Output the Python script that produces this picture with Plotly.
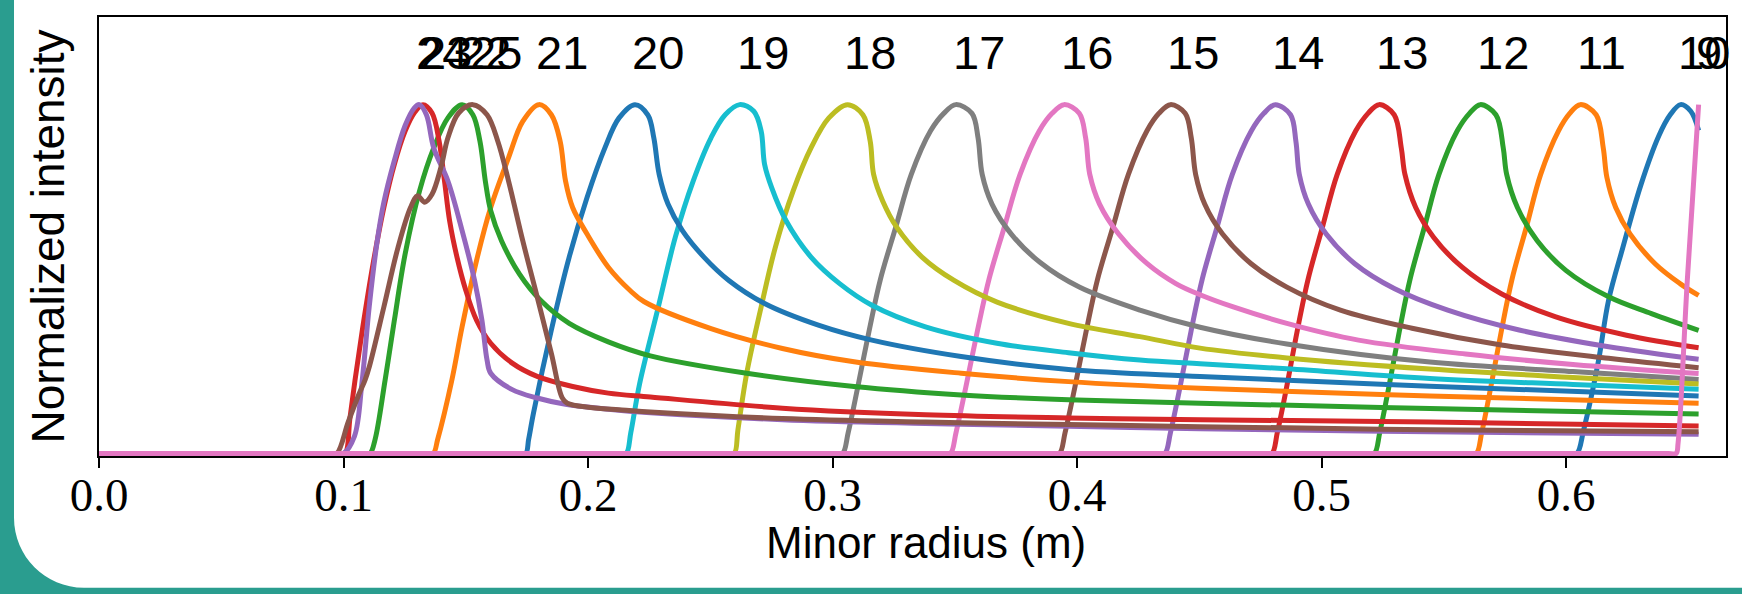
import plotly.graph_objects as go

# ---------------- data ----------------
CHANNELS = [10, 11, 12, 13, 14, 15, 16, 17, 18, 19, 20, 21, 22, 23, 24, 25, 9]

X10 = [0.0, 0.6014, 0.6044, 0.6072, 0.6131, 0.6174, 0.6232, 0.6306, 0.6379, 0.6425, 0.6468, 0.651, 0.6542]
Y10 = [0.0, 0.0, 0.0, 0.068, 0.26, 0.44, 0.59, 0.77, 0.91, 0.97, 1.0, 0.981, 0.926]

X11 = [0.0, 0.5603, 0.5633, 0.5655, 0.5692, 0.5735, 0.5779, 0.5838, 0.5896, 0.5969, 0.6015, 0.6058,
       0.6123, 0.6152, 0.6167, 0.6203, 0.6262, 0.6364, 0.6466, 0.6542]
Y11 = [0.0, 0.0, 0.0, 0.06, 0.19, 0.35, 0.5, 0.65, 0.8, 0.925, 0.975, 1.0,
       0.971, 0.876, 0.791, 0.705, 0.629, 0.544, 0.487, 0.453]

X12 = [0.0, 0.5186, 0.5216, 0.5238, 0.5275, 0.5318, 0.5362, 0.5421, 0.548, 0.5555, 0.5605, 0.5649,
       0.5713, 0.5743, 0.5757, 0.5801, 0.5882, 0.5999, 0.6174, 0.6349, 0.6542]
Y12 = [0.0, 0.0, 0.0, 0.06, 0.19, 0.35, 0.5, 0.65, 0.8, 0.925, 0.975, 1.0,
       0.971, 0.876, 0.8, 0.705, 0.61, 0.525, 0.449, 0.401, 0.353]

X13 = [0.0, 0.4767, 0.4797, 0.4819, 0.4857, 0.49, 0.4945, 0.5004, 0.5064, 0.514, 0.519, 0.5235,
       0.5297, 0.5326, 0.5341, 0.5385, 0.5458, 0.5575, 0.5735, 0.5955, 0.6247, 0.6542]
Y13 = [0.0, 0.0, 0.0, 0.06, 0.19, 0.35, 0.5, 0.65, 0.8, 0.925, 0.975, 1.0,
       0.971, 0.876, 0.8, 0.705, 0.62, 0.534, 0.458, 0.392, 0.339, 0.303]

X14 = [0.0, 0.4329, 0.4359, 0.4382, 0.4421, 0.4466, 0.4512, 0.4573, 0.4635, 0.4713, 0.4764, 0.4811,
       0.4873, 0.4895, 0.4909, 0.4946, 0.5019, 0.5136, 0.5297, 0.5516, 0.5808, 0.6174, 0.6542]
Y14 = [0.0, 0.0, 0.0, 0.06, 0.19, 0.35, 0.5, 0.65, 0.8, 0.925, 0.975, 1.0,
       0.971, 0.895, 0.8, 0.715, 0.629, 0.544, 0.473, 0.411, 0.354, 0.306, 0.27]

X15 = [0.0, 0.3898, 0.3928, 0.3951, 0.3991, 0.4037, 0.4084, 0.4147, 0.421, 0.4286, 0.4335, 0.4382,
       0.4442, 0.4467, 0.4485, 0.4522, 0.4595, 0.4712, 0.4858, 0.5077, 0.537, 0.5735, 0.6174, 0.6542]
Y15 = [0.0, 0.0, 0.0, 0.06, 0.19, 0.35, 0.5, 0.65, 0.8, 0.925, 0.975, 1.0,
       0.975, 0.905, 0.8, 0.715, 0.629, 0.544, 0.477, 0.411, 0.359, 0.311, 0.273, 0.246]

X16 = [0.0, 0.3452, 0.3482, 0.3505, 0.3545, 0.3592, 0.364, 0.3703, 0.3767, 0.3846, 0.3898, 0.3947,
       0.4009, 0.4035, 0.4052, 0.4092, 0.417, 0.4287, 0.4404, 0.4503, 0.4639, 0.4858, 0.5151,
       0.5589, 0.6028, 0.6542]
Y16 = [0.0, 0.0, 0.0, 0.06, 0.19, 0.35, 0.5, 0.65, 0.8, 0.925, 0.975, 1.0,
       0.975, 0.905, 0.8, 0.715, 0.629, 0.544, 0.487, 0.455, 0.42, 0.373, 0.325,
       0.285, 0.255, 0.229]

X17 = [0.0, 0.3011, 0.3041, 0.3064, 0.3103, 0.3149, 0.3196, 0.3259, 0.3322, 0.3401, 0.3455, 0.3504,
       0.357, 0.3595, 0.3612, 0.3652, 0.3731, 0.3848, 0.4009, 0.4257, 0.4503, 0.4858, 0.5443,
       0.6028, 0.6542]
Y17 = [0.0, 0.0, 0.0, 0.06, 0.19, 0.35, 0.5, 0.65, 0.8, 0.925, 0.975, 1.0,
       0.975, 0.905, 0.8, 0.715, 0.629, 0.548, 0.477, 0.411, 0.362, 0.314, 0.262,
       0.235, 0.212]

X18 = [0.0, 0.2568, 0.2598, 0.2613, 0.2649, 0.2708, 0.2766, 0.2839, 0.2912, 0.2985, 0.3061,
       0.3124, 0.3154, 0.3168, 0.3205, 0.3263, 0.3366, 0.3497, 0.3673, 0.3965, 0.4257, 0.4503,
       0.4858, 0.5443, 0.6028, 0.6542]
Y18 = [0.0, 0.0, 0.0, 0.068, 0.23, 0.42, 0.591, 0.753, 0.876, 0.962, 1.0,
       0.971, 0.895, 0.8, 0.724, 0.648, 0.563, 0.496, 0.434, 0.373, 0.335, 0.302,
       0.274, 0.242, 0.218, 0.199]

X19 = [0.0, 0.2126, 0.2156, 0.2175, 0.2211, 0.2284, 0.2357, 0.243, 0.2503, 0.2561, 0.262,
       0.2678, 0.2708, 0.2722, 0.2751, 0.281, 0.2912, 0.3029, 0.3161, 0.338, 0.3672, 0.3965,
       0.4257, 0.4503, 0.4858, 0.5443, 0.6028, 0.6542]
Y19 = [0.0, 0.0, 0.0, 0.06, 0.2, 0.41, 0.62, 0.781, 0.905, 0.971, 1.0,
       0.981, 0.924, 0.829, 0.762, 0.667, 0.563, 0.487, 0.425, 0.363, 0.316, 0.289,
       0.268, 0.257, 0.243, 0.215, 0.198, 0.184]

X20 = [0.0, 0.1715, 0.1745, 0.1757, 0.1777, 0.185, 0.1923, 0.1996, 0.2069, 0.2127, 0.2192,
       0.2245, 0.2269, 0.2291, 0.2327, 0.2386, 0.2474, 0.2576, 0.2722, 0.2942, 0.3161, 0.3526,
       0.3965, 0.4503, 0.5443, 0.6542]
Y20 = [0.0, 0.0, 0.0, 0.04, 0.116, 0.354, 0.563, 0.734, 0.876, 0.962, 1.0,
       0.97, 0.905, 0.8, 0.715, 0.639, 0.563, 0.496, 0.43, 0.368, 0.325, 0.278,
       0.241, 0.221, 0.193, 0.165]

X21 = [0.0, 0.1337, 0.1367, 0.1385, 0.1443, 0.1485, 0.1544, 0.1602, 0.1675, 0.1733, 0.1799,
       0.185, 0.1886, 0.1908, 0.1937, 0.1996, 0.2083, 0.2171, 0.223, 0.2503, 0.2795, 0.3088,
       0.3526, 0.3965, 0.4503, 0.5443, 0.6542]
Y21 = [0.0, 0.0, 0.0, 0.04, 0.21, 0.363, 0.553, 0.705, 0.848, 0.952, 1.0,
       0.971, 0.895, 0.781, 0.705, 0.629, 0.534, 0.468, 0.435, 0.358, 0.301, 0.263,
       0.23, 0.206, 0.187, 0.165, 0.144]

X22 = [0.0, 0.1078, 0.1108, 0.1129, 0.117, 0.1208, 0.1252, 0.1311, 0.1369, 0.1427, 0.1485,
       0.1529, 0.1558, 0.158, 0.1602, 0.1646, 0.1719, 0.1806, 0.1923, 0.2083, 0.2255, 0.2649,
       0.3088, 0.3526, 0.3965, 0.4503, 0.5443, 0.6542]
Y22 = [0.0, 0.0, 0.0, 0.04, 0.21, 0.382, 0.572, 0.753, 0.876, 0.962, 1.0,
       0.971, 0.895, 0.781, 0.696, 0.61, 0.515, 0.439, 0.373, 0.32, 0.28, 0.23,
       0.192, 0.168, 0.154, 0.144, 0.129, 0.113]

X23 = [0.0, 0.0976, 0.1006, 0.1026, 0.1047, 0.1077, 0.1121, 0.1165, 0.1208, 0.1252, 0.1289, 0.1325,
       0.1362, 0.1391, 0.1413, 0.1434, 0.1464, 0.15, 0.1544, 0.1602, 0.169, 0.1792, 0.1937,
       0.2083, 0.2255, 0.2795, 0.338, 0.3965, 0.4503, 0.5443, 0.6542]
Y23 = [0.0, 0.0, 0.0, 0.1, 0.21, 0.354, 0.544, 0.705, 0.829, 0.924, 0.976, 1.0,
       0.976, 0.895, 0.781, 0.667, 0.563, 0.468, 0.382, 0.316, 0.259, 0.221, 0.192,
       0.173, 0.162, 0.13, 0.111, 0.102, 0.097, 0.09, 0.079]

X24 = [0.0, 0.0969, 0.0999, 0.1045, 0.1075, 0.1105, 0.1136, 0.1165, 0.1208, 0.1252, 0.1289, 0.131,
       0.1339, 0.1369, 0.1427, 0.1485, 0.1536, 0.1566, 0.1587, 0.1602, 0.169, 0.1792, 0.1908,
       0.2083, 0.2255, 0.2795, 0.338, 0.3965, 0.4503, 0.5443, 0.6542]
Y24 = [0.0, 0.0, 0.0, 0.05, 0.2, 0.42, 0.6, 0.72, 0.84, 0.94, 0.99, 1.0,
       0.971, 0.876, 0.781, 0.639, 0.496, 0.382, 0.268, 0.23, 0.183, 0.159, 0.141,
       0.127, 0.117, 0.097, 0.086, 0.078, 0.071, 0.062, 0.055]

X25 = [0.0, 0.0942, 0.0972, 0.1019, 0.1063, 0.1088, 0.1106, 0.1165, 0.1223, 0.1274, 0.1303, 0.1332,
       0.1362, 0.1398, 0.1427, 0.1471, 0.1529, 0.1587, 0.1631, 0.1675, 0.1733, 0.1792, 0.185,
       0.1894, 0.1915, 0.201, 0.2156, 0.2255, 0.2795, 0.338, 0.3965, 0.4503, 0.5443, 0.6542]
Y25 = [0.0, 0.0, 0.0, 0.09, 0.17, 0.21, 0.25, 0.42, 0.591, 0.705, 0.739, 0.72,
       0.743, 0.819, 0.905, 0.976, 1.0, 0.971, 0.895, 0.781, 0.61, 0.449, 0.287,
       0.16, 0.144, 0.132, 0.124, 0.119, 0.1, 0.09, 0.083, 0.077, 0.068, 0.062]

X9 = [0.0, 0.6420, 0.6450, 0.6458, 0.6496, 0.6542]
Y9 = [0.0, 0.0, 0.0, 0.03, 0.5, 1.0]

SERIES_X = {10: X10, 11: X11, 12: X12, 13: X13, 14: X14, 15: X15, 16: X16, 17: X17,
            18: X18, 19: X19, 20: X20, 21: X21, 22: X22, 23: X23, 24: X24, 25: X25, 9: X9}
SERIES_Y = {10: Y10, 11: Y11, 12: Y12, 13: Y13, 14: Y14, 15: Y15, 16: Y16, 17: Y17,
            18: Y18, 19: Y19, 20: Y20, 21: Y21, 22: Y22, 23: Y23, 24: Y24, 25: Y25, 9: Y9}

X_TICKS = [0.0, 0.1, 0.2, 0.3, 0.4, 0.5, 0.6]
X_TICK_TEXT = ["0.0", "0.1", "0.2", "0.3", "0.4", "0.5", "0.6"]
X_TITLE = "Minor radius (m)"
Y_TITLE = "Normalized intensity"

# ---------------- style ----------------
TAB10 = ["#1f77b4", "#ff7f0e", "#2ca02c", "#d62728", "#9467bd",
         "#8c564b", "#e377c2", "#7f7f7f", "#bcbd22", "#17becf"]
W, H = 1742, 594
ML, MR, MT, MB = 99, 16, 17, 138
PW, PH = W - ML - MR, H - MT - MB
LABEL_Y = 1.150
TEAL = "#2a9d8f"


def paper(px, py):
    return (px - ML) / PW, (H - MB - py) / PH


def pt(px, py):
    a, b = paper(px, py)
    return f"{a:.5f},{b:.5f}"


fig = go.Figure()
for i, ch in enumerate(CHANNELS):
    fig.add_trace(go.Scatter(
        x=SERIES_X[ch], y=SERIES_Y[ch], mode="lines", name=str(ch),
        line=dict(color=TAB10[i % 10], width=5, shape="spline", smoothing=1.0),
        showlegend=False, hoverinfo="skip"))

for ch in CHANNELS:
    xs, ys = SERIES_X[ch], SERIES_Y[ch]
    xpk = xs[ys.index(max(ys))]
    fig.add_annotation(x=xpk, y=LABEL_Y, xref="x", yref="y", text=str(ch),
                       showarrow=False, xanchor="left", yanchor="middle", xshift=-5,
                       font=dict(family="Liberation Sans", size=47, color="black"))

# x-axis title placed as an annotation (exact position)
tx, ty = paper(925.8, 542)
fig.add_annotation(x=tx, y=ty, xref="paper", yref="paper", text=X_TITLE,
                   showarrow=False, xanchor="center", yanchor="middle",
                   font=dict(family="Liberation Sans", size=44, color="black"))

r = 70
k = 0.5523 * r
bx, by = 14, 587.7
path = (f"M {pt(0, 0)} L {pt(bx, 0)} L {pt(bx, by - r)} "
        f"C {pt(bx, by - r + k)} {pt(bx + r - k, by)} {pt(bx + r, by)} "
        f"L {pt(W, by)} L {pt(W, H)} L {pt(0, H)} Z")
fig.add_shape(type="path", path=path, xref="paper", yref="paper",
              fillcolor=TEAL, line=dict(width=0), layer="below")

fig.update_layout(
    width=W, height=H,
    margin=dict(l=ML, r=MR, t=MT, b=MB, pad=0, autoexpand=False),
    paper_bgcolor="white", plot_bgcolor="white",
    showlegend=False,
    xaxis=dict(range=[0, 0.6654], showgrid=False, zeroline=False, automargin=False,
               showline=True, linecolor="black", linewidth=2, mirror=True,
               ticks="outside", ticklen=10, tickwidth=2, tickcolor="black",
               tickvals=X_TICKS, ticktext=X_TICK_TEXT, ticklabelstandoff=-13,
               tickfont=dict(family="Liberation Serif", size=47, color="black")),
    yaxis=dict(range=[-0.0072, 1.2512], showgrid=False, zeroline=False, automargin=False,
               showline=True, linecolor="black", linewidth=2, mirror=True,
               ticks="", showticklabels=False,
               title=dict(text=Y_TITLE, standoff=18,
                          font=dict(family="Liberation Sans", size=46, color="black"))),
)

fig.write_html("out.html", config={"displayModeBar": False},
               post_script="document.body.style.margin='0px';")
